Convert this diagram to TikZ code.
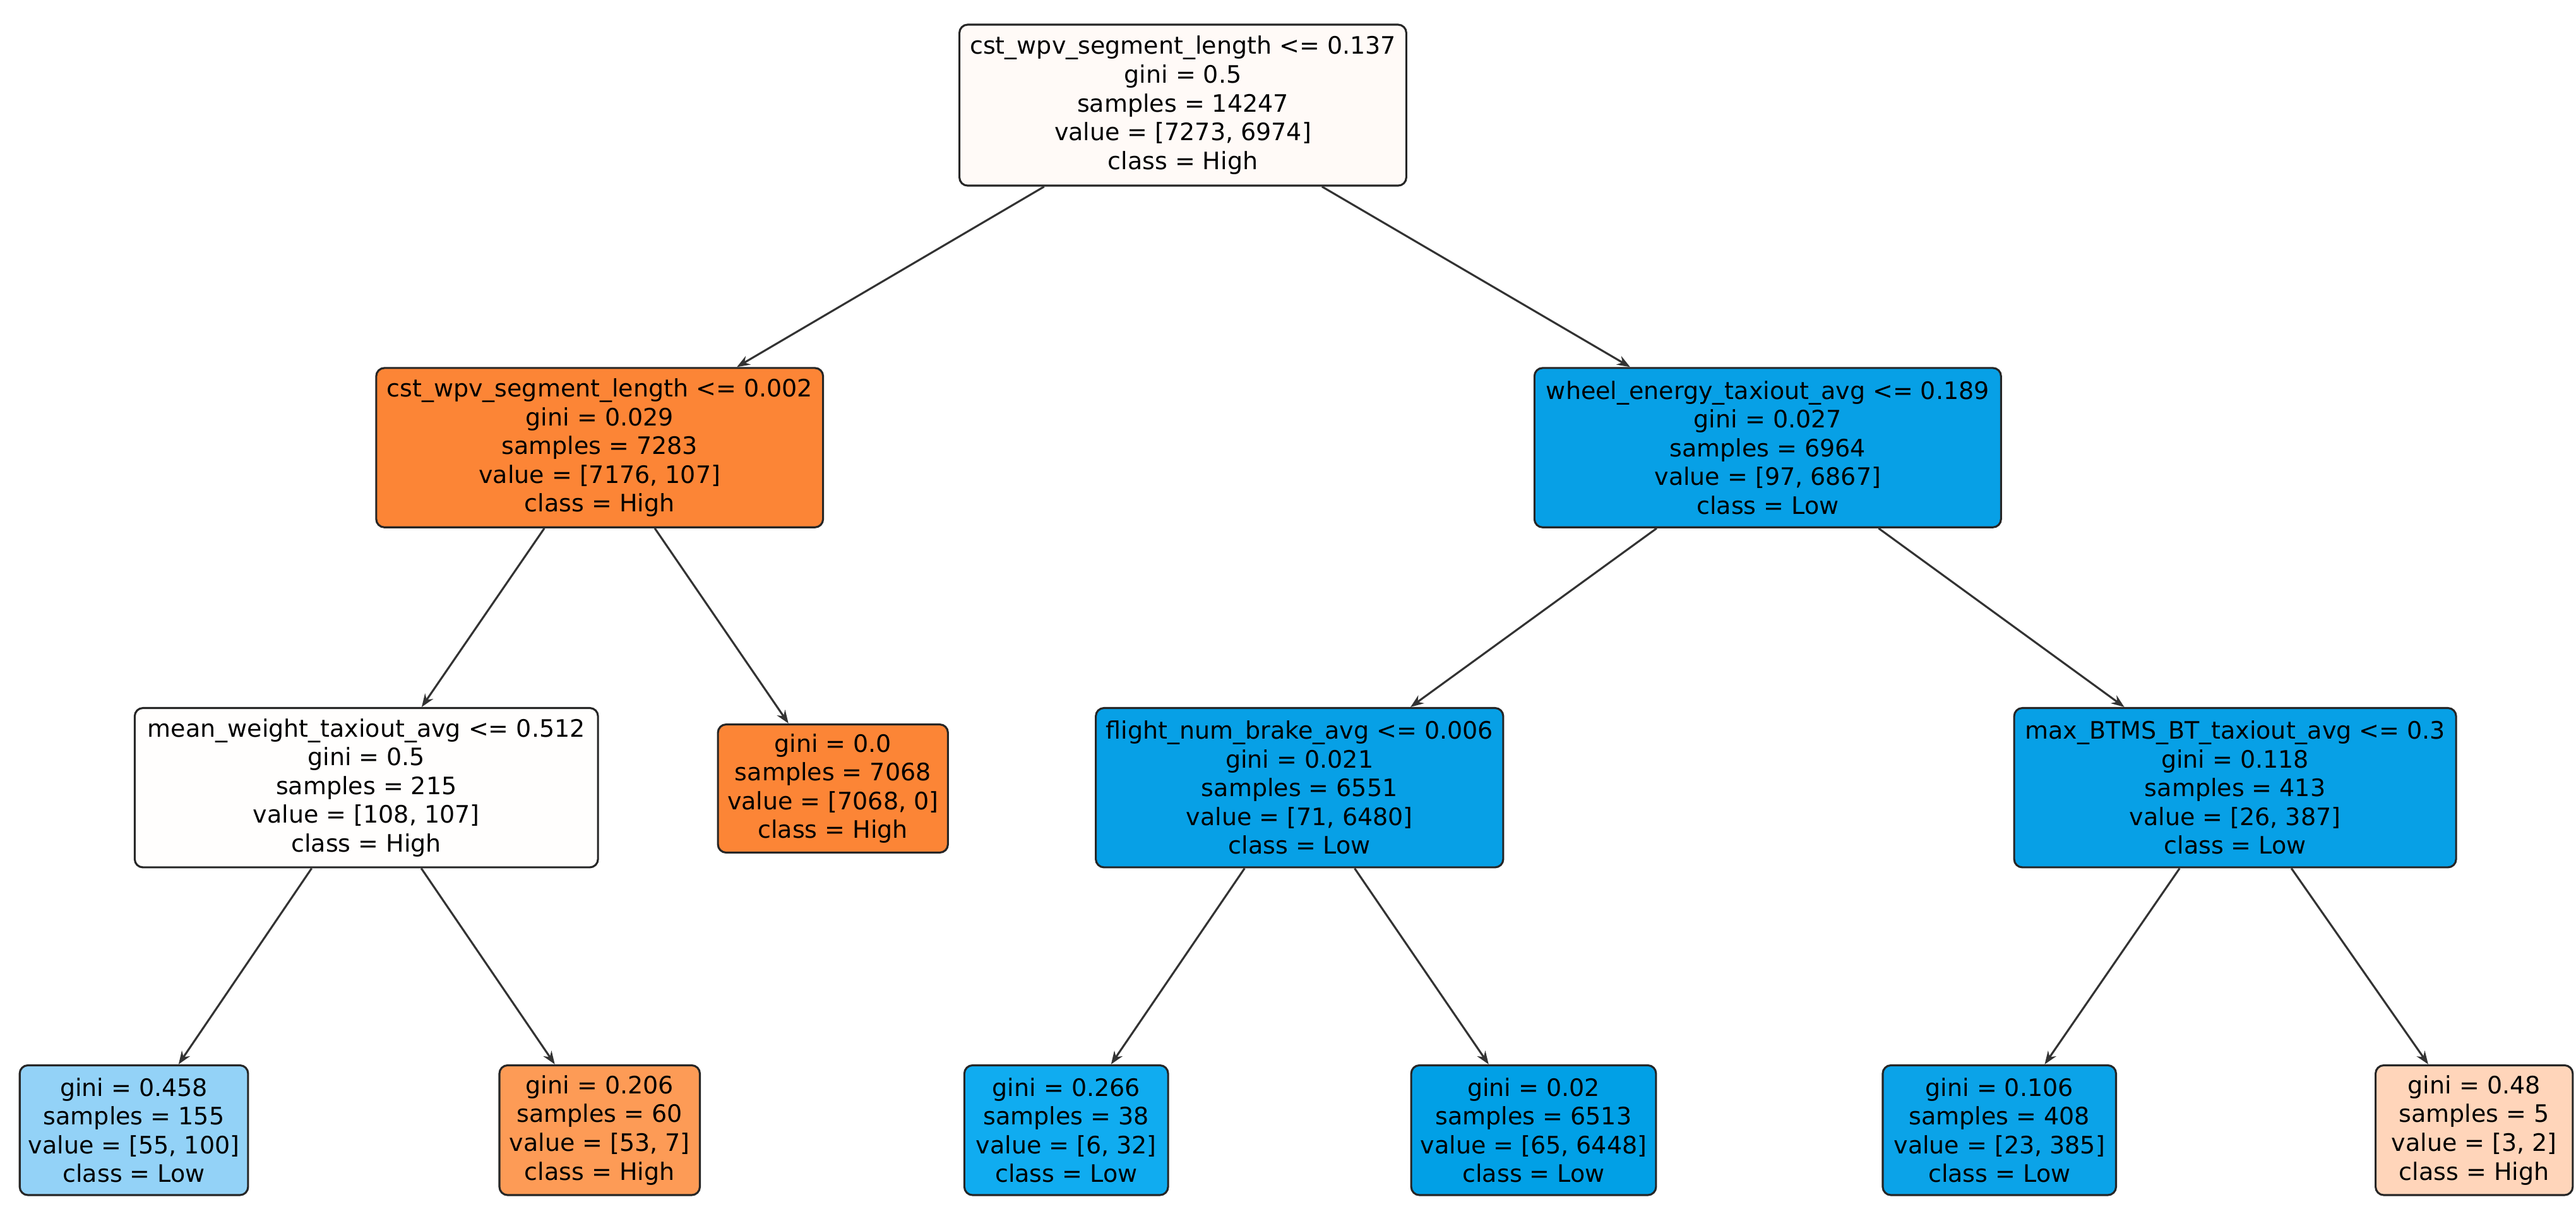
\documentclass[tikz,border=0pt]{standalone}
\usepackage{fontspec}
\setmainfont{DejaVu Sans}
\usetikzlibrary{arrows.meta}
\definecolor{org}{HTML}{FC8536}
\definecolor{blu}{HTML}{07A0E6}
\definecolor{ca}{HTML}{93D2F7}
\definecolor{cb}{HTML}{FD9B56}
\definecolor{cc}{HTML}{10ACF0}
\definecolor{cd}{HTML}{01A0E6}
\definecolor{cf}{HTML}{0BA3E8}
\definecolor{cg}{HTML}{FFD5BA}
\begin{document}
\begin{tikzpicture}[x=0.5pt,y=-0.5pt,
 box/.style={draw=black!85,line width=0.6pt,rounded corners=2.5pt,align=center,inner sep=0pt,
   font=\fontsize{7.3}{8.75}\selectfont},
 e/.style={draw=black!80,line width=0.6pt,-{Stealth[length=4pt,width=3pt]}}]
\useasboundingbox (0,0) rectangle (1568,746);
\newcommand{\bx}[6]{\node[box,fill=#2,minimum width=#3*0.5pt,minimum height=#4*0.5pt] (#1) at (#5,#6)}
\bx{r}{white!96!org}{272}{98}{720}{64}{cst\_wpv\_segment\_length <= 0.137\\gini = 0.5\\samples = 14247\\value = [7273, 6974]\\class = High};
\bx{l1}{org}{272}{97}{365}{272.5}{cst\_wpv\_segment\_length <= 0.002\\gini = 0.029\\samples = 7283\\value = [7176, 107]\\class = High};
\bx{r1}{blu}{284}{97}{1076}{272.5}{wheel\_energy\_taxiout\_avg <= 0.189\\gini = 0.027\\samples = 6964\\value = [97, 6867]\\class = Low};
\bx{l2a}{white!99!org}{282}{97}{223}{479.5}{mean\_weight\_taxiout\_avg <= 0.512\\gini = 0.5\\samples = 215\\value = [108, 107]\\class = High};
\bx{l2b}{org}{140}{78}{507}{480}{gini = 0.0\\samples = 7068\\value = [7068, 0]\\class = High};
\bx{r2a}{blu}{248}{97}{791}{479.5}{flight\_num\_brake\_avg <= 0.006\\gini = 0.021\\samples = 6551\\value = [71, 6480]\\class = Low};
\bx{r2b}{blu}{269}{97}{1360.5}{479.5}{max\_BTMS\_BT\_taxiout\_avg <= 0.3\\gini = 0.118\\samples = 413\\value = [26, 387]\\class = Low};
\bx{a}{ca}{139}{79}{81.5}{688}{gini = 0.458\\samples = 155\\value = [55, 100]\\class = Low};
\bx{b}{cb}{122}{79}{365}{688}{gini = 0.206\\samples = 60\\value = [53, 7]\\class = High};
\bx{c}{cc}{124}{79}{649}{688}{gini = 0.266\\samples = 38\\value = [6, 32]\\class = Low};
\bx{d}{cd}{149}{79}{933.5}{688}{gini = 0.02\\samples = 6513\\value = [65, 6448]\\class = Low};
\bx{f}{cf}{142}{79}{1217}{688}{gini = 0.106\\samples = 408\\value = [23, 385]\\class = Low};
\bx{g}{cg}{120}{79}{1506}{688}{gini = 0.48\\samples = 5\\value = [3, 2]\\class = High};
\foreach \p/\c in {r/l1,r/r1,l1/l2a,l1/l2b,r1/r2a,r1/r2b,l2a/a,l2a/b,r2a/c,r2a/d,r2b/f,r2b/g}
  \draw[e] (\p) -- (\c);
\end{tikzpicture}
\end{document}
